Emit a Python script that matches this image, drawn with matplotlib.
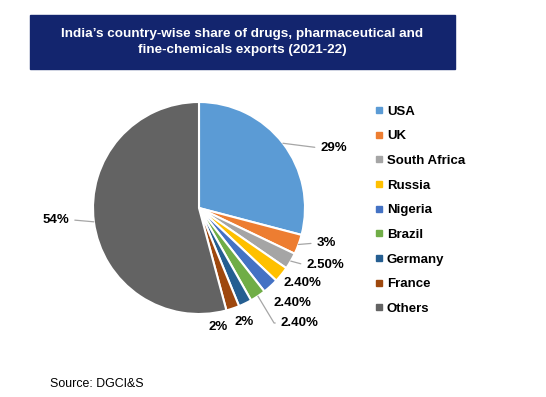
import numpy as np
import matplotlib.pyplot as plt
from matplotlib.patches import Rectangle
from matplotlib.lines import Line2D

countries = ['USA', 'UK', 'South Africa', 'Russia', 'Nigeria', 'Brazil',
             'Germany', 'France', 'Others']
shares = [29, 3, 2.5, 2.4, 2.4, 2.4, 2, 2, 54]
labels = ['29%', '3%', '2.50%', '2.40%', '2.40%', '2.40%', '2%', '2%', '54%']
colors = ['#5B9BD5', '#ED7D31', '#A5A5A5', '#FFC000', '#4472C4',
          '#70AD47', '#255E91', '#9E480E', '#636363']

# label centres (data units, pie radius = 1) and leader line style (None = no line)
label_pos = [(1.27, 0.566), (1.20, -0.33), (1.19, -0.54), (0.98, -0.71),
             (0.88, -0.90), (0.95, -1.085), (0.43, -1.075), (0.18, -1.12),
             (-1.35, -0.11)]
leader = ['arc3', 'arc3', 'arc3', None, None,
          'angle,angleA=0,angleB=-59,rad=0', None, None, 'arc3']

plt.rcParams['font.family'] = ['Liberation Sans', 'DejaVu Sans']

W, H = 546, 397
fig = plt.figure(figsize=(W / 100, H / 100), dpi=100)

# title banner
fig.patches.append(Rectangle((30 / W, 1 - 69 / H), 425 / W, 54 / H,
                             transform=fig.transFigure, color='#13256e', zorder=0))
fig.text(242 / W, 1 - 42 / H,
         "India\u2019s country-wise share of drugs, pharmaceutical and\nfine-chemicals exports (2021-22)",
         color='white', fontsize=9.7, fontweight='bold', ha='center', va='center',
         linespacing=1.5)

# pie axes: center (199, 208) px, radius 106 px, data range +-1.5
cx, cy, r = 199, 208, 106
half = 1.5 * r
ax = fig.add_axes([(cx - half) / W, 1 - (cy + half) / H, 2 * half / W, 2 * half / H])

wedges, _ = ax.pie(shares, colors=colors, startangle=90, counterclock=False,
                   radius=1, wedgeprops=dict(edgecolor='white', linewidth=1.5))
ax.set_xlim(-1.5, 1.5)
ax.set_ylim(-1.5, 1.5)
ax.axis('off')

for w, lab, pos, ld in zip(wedges, labels, label_pos, leader):
    mid = np.deg2rad((w.theta1 + w.theta2) / 2)
    edge = (np.cos(mid), np.sin(mid))
    if ld:
        side = 0 if pos[0] > 0 else 1
        ax.annotate(lab, xy=edge, xytext=pos, ha='center', va='center',
                    fontsize=9.5, fontweight='bold', annotation_clip=False,
                    arrowprops=dict(arrowstyle='-', color='#a6a6a6', lw=0.9,
                                    shrinkA=2, shrinkB=0, relpos=(side, 0.5),
                                    connectionstyle=ld))
    else:
        ax.text(pos[0], pos[1], lab, ha='center', va='center', fontsize=9.5,
                fontweight='bold', clip_on=False)

handles = [Line2D([], [], marker='s', linestyle='none', markersize=4.5,
                  markerfacecolor=c, markeredgecolor=c) for c in colors]
fig.legend(handles, countries, loc='upper left',
           bbox_to_anchor=(369 / W, 1 - 99 / H), frameon=False,
           prop=dict(size=9.5, weight='bold'), handlelength=0.5,
           handletextpad=0.35, labelspacing=0.94, borderpad=0)

fig.text(50 / W, 1 - 384 / H, 'Source: DGCI&S', fontsize=8.9, ha='left', va='center')

fig.savefig('out.png', dpi=100, facecolor='white')
